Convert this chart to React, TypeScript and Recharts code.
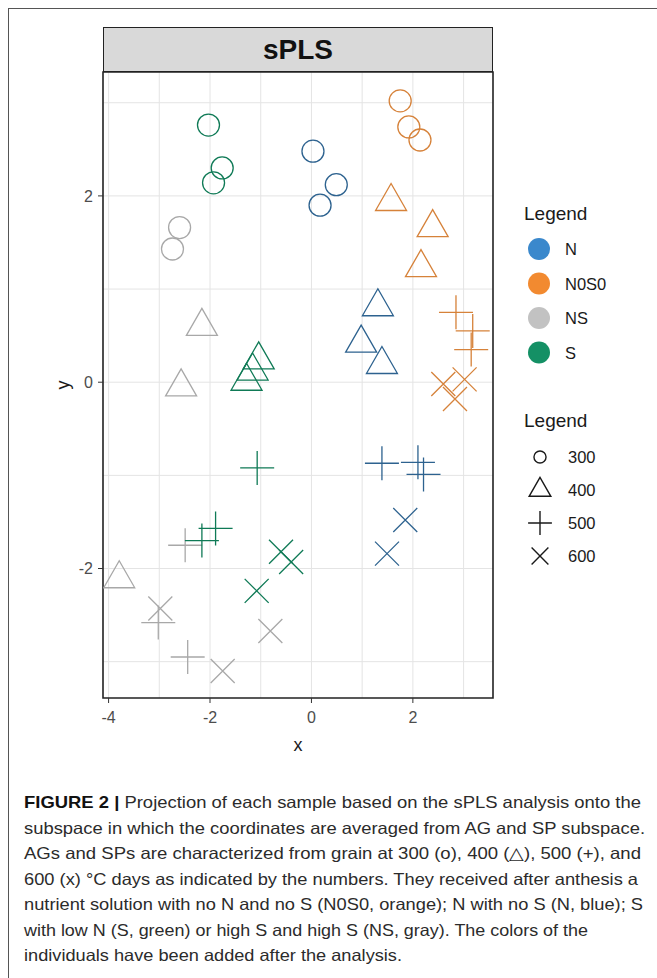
import React from 'react';
import { ScatterChart, Scatter, XAxis, YAxis, CartesianGrid, ReferenceArea } from 'recharts';

// treatments and sampling times (°C days)
const groups = ['N', 'N0S0', 'NS', 'S'];
const times = [300, 400, 500, 600];

const xTicks = [-4, -2, 0, 2];
const yTicks = [-2, 0, 2];
const xGrid = [-4, -3, -2, -1, 0, 1, 2, 3];
const yGrid = [-3, -2, -1, 0, 1, 2, 3];
const xDomain = [-4.11, 3.58];
const yDomain = [-3.39, 3.33];

// sPLS scores, t = °C days
const nScores = [
  { x: 0.03, y: 2.48, t: 300 }, { x: 0.49, y: 2.12, t: 300 }, { x: 0.17, y: 1.9, t: 300 },
  { x: 1.31, y: 0.81, t: 400 }, { x: 0.98, y: 0.42, t: 400 }, { x: 1.39, y: 0.19, t: 400 },
  { x: 1.39, y: -0.87, t: 500 }, { x: 2.1, y: -0.86, t: 500 }, { x: 2.21, y: -0.99, t: 500 },
  { x: 1.85, y: -1.48, t: 600 }, { x: 1.49, y: -1.84, t: 600 },
];
const n0s0Scores = [
  { x: 1.75, y: 3.02, t: 300 }, { x: 1.92, y: 2.74, t: 300 }, { x: 2.14, y: 2.6, t: 300 },
  { x: 1.57, y: 1.94, t: 400 }, { x: 2.39, y: 1.66, t: 400 }, { x: 2.16, y: 1.23, t: 400 },
  { x: 2.85, y: 0.75, t: 500 }, { x: 3.18, y: 0.55, t: 500 }, { x: 3.15, y: 0.35, t: 500 },
  { x: 2.6, y: -0.02, t: 600 }, { x: 3.02, y: 0.03, t: 600 }, { x: 2.83, y: -0.18, t: 600 },
];
const nsScores = [
  { x: -2.6, y: 1.66, t: 300 }, { x: -2.74, y: 1.43, t: 300 },
  { x: -2.16, y: 0.6, t: 400 }, { x: -2.57, y: -0.05, t: 400 }, { x: -3.79, y: -2.11, t: 400 },
  { x: -2.49, y: -1.75, t: 500 }, { x: -3.02, y: -2.58, t: 500 }, { x: -2.44, y: -2.95, t: 500 },
  { x: -2.98, y: -2.43, t: 600 }, { x: -0.81, y: -2.67, t: 600 }, { x: -1.75, y: -3.1, t: 600 },
];
const sScores = [
  { x: -2.03, y: 2.76, t: 300 }, { x: -1.76, y: 2.3, t: 300 }, { x: -1.93, y: 2.14, t: 300 },
  { x: -1.04, y: 0.24, t: 400 }, { x: -1.16, y: 0.12, t: 400 }, { x: -1.28, y: 0.01, t: 400 },
  { x: -1.07, y: -0.92, t: 500 }, { x: -1.89, y: -1.57, t: 500 }, { x: -2.16, y: -1.7, t: 500 },
  { x: -0.6, y: -1.82, t: 600 }, { x: -0.4, y: -1.93, t: 600 }, { x: -1.08, y: -2.24, t: 600 },
];

const groupData = [nScores, n0s0Scores, nsScores, sScores];
const pointColors = ['#2d628f', '#d6823a', '#a8a8a8', '#0f7a56'];
const legendColors = ['#3a88cc', '#f28a30', '#c2c2c2', '#149065'];

const captionLines = [
  'Projection of each sample based on the sPLS analysis onto the',
  'subspace in which the coordinates are averaged from AG and SP subspace.',
  'AGs and SPs are characterized from grain at 300 (o), 400 (\u25B3), 500 (+), and',
  '600 (x) \u00B0C days as indicated by the numbers. They received after anthesis a',
  'nutrient solution with no N and no S (N0S0, orange); N with no S (N, blue); S',
  'with low N (S, green) or high S and high S (NS, gray). The colors of the',
  'individuals have been added after the analysis.',
];
const captionWidths = [617, 621, 617, 614, 619, 564, 378];

const FONT = '"Liberation Sans", Arial, sans-serif';

// one glyph per sampling time, like ggplot shapes 1, 2, 3, 4
const Glyph = ({ cx, cy, t, color, scale = 1, sw = 1.3 }: any) => {
  const common = { fill: 'none', stroke: color, strokeWidth: sw };
  if (t === 300) return <circle cx={cx} cy={cy} r={11 * scale} {...common} />;
  if (t === 400) {
    const w = 31 * scale;
    const h = 27 * scale;
    return (
      <polygon
        points={`${cx},${cy - (2 * h) / 3} ${cx - w / 2},${cy + h / 3} ${cx + w / 2},${cy + h / 3}`}
        {...common}
      />
    );
  }
  if (t === 500) {
    const a = 17 * scale;
    return <path d={`M${cx - a},${cy}H${cx + a}M${cx},${cy - a}V${cy + a}`} {...common} />;
  }
  const b = 12 * scale;
  return <path d={`M${cx - b},${cy - b}L${cx + b},${cy + b}M${cx - b},${cy + b}L${cx + b},${cy - b}`} {...common} />;
};

const App = () => {
  return (
    <div style={{ position: 'absolute', left: 0, top: 0, width: 657, height: 978, background: '#fff', fontFamily: FONT, overflow: 'hidden' }}>
      {/* figure frame */}
      <div style={{ position: 'absolute', left: 8, top: 8, width: 700, height: 1000, borderLeft: '1.5px solid #555', borderTop: '1.5px solid #555' }} />

      {/* facet strip */}
      <div
        style={{
          position: 'absolute', left: 103, top: 27, width: 390, height: 45, boxSizing: 'border-box',
          background: '#d9d9d9', border: '1.5px solid #222', display: 'flex', alignItems: 'center', justifyContent: 'center',
          fontWeight: 'bold', fontSize: 28, color: '#111',
        }}
      >
        sPLS
      </div>

      <div style={{ position: 'absolute', left: 0, top: 0 }}>
        <ScatterChart width={657} height={760} margin={{ top: 72, right: 164, bottom: 0, left: 0 }}>
          <CartesianGrid stroke="#e4e4e4" strokeWidth={1} verticalValues={xGrid} horizontalValues={yGrid} />
          <XAxis
            type="number"
            dataKey="x"
            domain={xDomain}
            allowDataOverflow
            ticks={xTicks}
            interval={0}
            height={62}
            axisLine={false}
            tickSize={5}
            tickMargin={9}
            fontSize={16}
            tickLine={{ stroke: '#333' }}
            tick={{ fontSize: 16, fill: '#4d4d4d', fontFamily: FONT }}
            label={{
              content: (p: any) => (
                <text x={p.viewBox.x + p.viewBox.width / 2} y={751} textAnchor="middle" fontSize={18} fill="#1a1a1a" fontFamily={FONT}>
                  x
                </text>
              ),
            }}
          />
          <YAxis
            type="number"
            dataKey="y"
            domain={yDomain}
            allowDataOverflow
            ticks={yTicks}
            interval={0}
            width={103}
            axisLine={false}
            tickSize={5}
            tickMargin={5}
            fontSize={16}
            tickLine={{ stroke: '#333' }}
            tick={{ fontSize: 16, fill: '#4d4d4d', fontFamily: FONT }}
            label={{
              content: (p: any) => {
                const cy = p.viewBox.y + p.viewBox.height / 2;
                return (
                  <text x={69} y={cy} transform={`rotate(-90 69 ${cy})`} textAnchor="middle" fontSize={18} fill="#1a1a1a" fontFamily={FONT}>
                    y
                  </text>
                );
              },
            }}
          />
          {groups.map((g, i) => (
            <Scatter
              key={g}
              name={g}
              data={groupData[i]}
              isAnimationActive={false}
              shape={(p: any) => <Glyph cx={p.cx} cy={p.cy} t={p.payload.t} color={pointColors[i]} />}
            />
          ))}
          <ReferenceArea
            x1={xDomain[0]}
            x2={xDomain[1]}
            y1={yDomain[0]}
            y2={yDomain[1]}
            fill="none"
            stroke="#222"
            strokeWidth={1.6}
            ifOverflow="visible"
          />
        </ScatterChart>
      </div>

      {/* legends */}
      <svg style={{ position: 'absolute', left: 500, top: 190 }} width={157} height={400}>
        <text x={24} y={30} fontSize={19} fill="#1a1a1a" fontFamily={FONT}>Legend</text>
        {groups.map((g, i) => (
          <g key={g}>
            <circle cx={39} cy={59 + i * 34.5} r={11} fill={legendColors[i]} />
            <text x={65} y={59 + i * 34.5 + 6} fontSize={16.5} fill="#1a1a1a" fontFamily={FONT}>{g}</text>
          </g>
        ))}
        <text x={24} y={237} fontSize={19} fill="#1a1a1a" fontFamily={FONT}>Legend</text>
        {times.map((t, i) => (
          <g key={t}>
            <Glyph cx={40} cy={267 + i * 33} t={t} color="#1a1a1a" scale={t === 300 ? 0.55 : 0.7} sw={1.4} />
            <text x={68} y={267 + i * 33 + 6} fontSize={16.5} fill="#1a1a1a" fontFamily={FONT}>{t}</text>
          </g>
        ))}
      </svg>

      {/* caption */}
      <svg style={{ position: 'absolute', left: 0, top: 780 }} width={657} height={198}>
        {captionLines.map((line, i) => (
          <text
            key={i}
            x={24}
            y={28 + i * 25.5}
            fontSize={16.5}
            fill="#2b2b2b"
            fontFamily={FONT}
            textLength={captionWidths[i]}
            lengthAdjust="spacingAndGlyphs"
          >
            {i === 0 && <tspan fontWeight="bold" fill="#111">FIGURE 2 | </tspan>}
            {line}
          </text>
        ))}
      </svg>
    </div>
  );
};

export default App;
